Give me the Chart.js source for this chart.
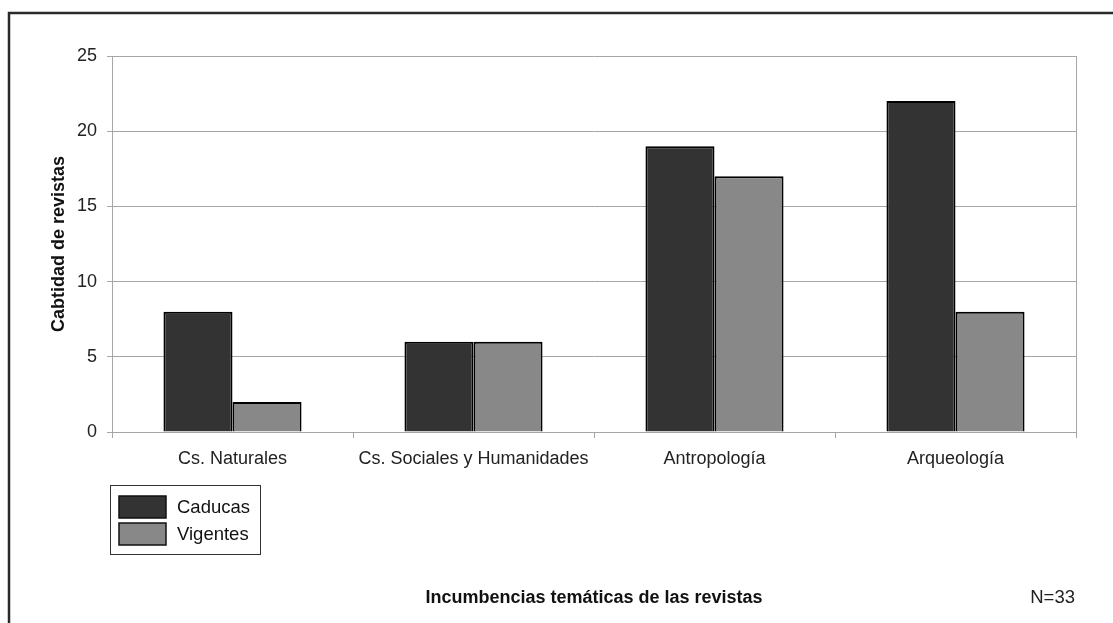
<!DOCTYPE html>
<html>
<head>
<meta charset="utf-8">
<script src="https://cdn.jsdelivr.net/npm/chart.js@4"></script>
<style>
  html, body { margin: 0; padding: 0; background: #fff; }
  canvas { display: block; }
</style>
</head>
<body>
<canvas id="chart" width="1113" height="623"></canvas>
<script>
const categories = ['Cs. Naturales', 'Cs. Sociales y Humanidades', 'Antropología', 'Arqueología'];
const caducas = [8, 6, 19, 22];
const vigentes = [2, 6, 17, 8];
const yTicks = [0, 5, 10, 15, 20, 25];
const noteText = 'N=33';

const FONT = "'Liberation Sans', Arial, sans-serif";
const gridColor = '#a6a6a6';

// frame, right border of plot, legend box and N note
const extras = {
    id: 'extras',
    afterDraw(chart) {
        const ctx = chart.ctx;
        const area = chart.chartArea;
        ctx.save();

        ctx.strokeStyle = '#2a2a2a';
        ctx.lineWidth = 2.5;
        ctx.strokeRect(9, 13, 1120, 620);

        ctx.strokeStyle = gridColor;
        ctx.lineWidth = 1;
        ctx.beginPath();
        ctx.moveTo(Math.round(area.right) + 0.5, area.top);
        ctx.lineTo(Math.round(area.right) + 0.5, area.bottom);
        ctx.stroke();

        // legend
        ctx.strokeStyle = '#333';
        ctx.lineWidth = 1;
        ctx.strokeRect(110.5, 485.5, 150, 69);
        ctx.font = '18.5px ' + FONT;
        ctx.textBaseline = 'middle';
        ctx.textAlign = 'left';
        chart.data.datasets.forEach((ds, i) => {
            const y = 496 + i * 27;
            ctx.fillStyle = ds.backgroundColor;
            ctx.fillRect(119, y, 47, 22);
            ctx.strokeStyle = '#111';
            ctx.lineWidth = 1.5;
            ctx.strokeRect(119, y, 47, 22);
            ctx.fillStyle = '#111';
            ctx.fillText(ds.label, 177, y + 12);
        });

        ctx.fillStyle = '#222';
        ctx.font = '18.5px ' + FONT;
        ctx.textAlign = 'right';
        ctx.fillText(noteText, 1075, 598);
        ctx.restore();
    }
};

new Chart(document.getElementById('chart'), {
    type: 'bar',
    data: {
        labels: categories,
        datasets: [
            { label: 'Caducas', data: caducas, backgroundColor: '#333333', borderColor: '#000', borderWidth: 2 },
            { label: 'Vigentes', data: vigentes, backgroundColor: '#888888', borderColor: '#000', borderWidth: 2 }
        ]
    },
    options: {
        responsive: false,
        animation: false,
        devicePixelRatio: 1,
        layout: { padding: { top: 56, right: 37, left: 0, bottom: 0 } },
        plugins: {
            legend: { display: false },
            tooltip: { enabled: false }
        },
        datasets: {
            bar: { categoryPercentage: 0.573, barPercentage: 1 }
        },
        scales: {
            x: {
                afterFit(scale) { scale.height = 191; },
                grid: { offset: true, drawOnChartArea: false, drawTicks: true, tickLength: 6, color: gridColor },
                border: { color: gridColor },
                ticks: { color: '#222', font: { family: FONT, size: 18 }, padding: 10, maxRotation: 0, autoSkip: false },
                title: {
                    display: true,
                    text: 'Incumbencias temáticas de las revistas',
                    color: '#111',
                    font: { family: FONT, size: 18, weight: 'bold' },
                    padding: { top: 0, bottom: 14 }
                }
            },
            y: {
                min: 0,
                max: 25,
                afterFit(scale) { scale.width = 112; },
                afterBuildTicks(scale) { scale.ticks = yTicks.map(v => ({ value: v })); },
                grid: { color: gridColor, tickLength: 5 },
                border: { color: gridColor },
                ticks: { color: '#222', font: { family: FONT, size: 18 }, padding: 10 },
                title: {
                    display: true,
                    text: 'Cabtidad de revistas',
                    color: '#111',
                    font: { family: FONT, size: 18, weight: 'bold' },
                    padding: { top: 48, bottom: 0 }
                }
            }
        }
    },
    plugins: [extras]
});
</script>
</body>
</html>
